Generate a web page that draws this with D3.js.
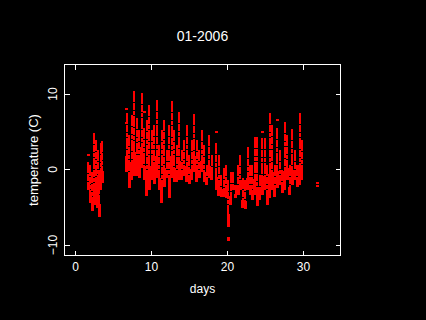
<!DOCTYPE html>
<html><head><meta charset="utf-8">
<script src="https://cdnjs.cloudflare.com/ajax/libs/d3/7.8.5/d3.min.js"></script>
<style>html,body{margin:0;background:#000}svg{display:block}text{font-family:"Liberation Sans",Arial,sans-serif;fill:#fff}</style>
</head><body><svg id="c" width="426" height="320"></svg>
<script>
const title = "01-2006", xLabel = "days", yLabel = "temperature (C)";
const xTicks = [0, 10, 20, 30], yTicks = [-10, 0, 10];
const days  = [1.67,1.94,2.2,2.47,2.73,2.94,3.13,3.33,3.52,
 6.74,7.07,7.39,7.72,8.05,8.38,8.71,9.04,9.37,9.70,10.03,10.36,10.68,11.01,11.34,11.67,12.0,12.33,12.66,12.99,13.32,13.64,13.97,14.30,14.63,14.96,15.29,15.62,15.95,16.28,16.61,16.93,17.26,17.59,17.92,
 18.51,18.84,19.17,19.5,19.83,20.09,20.42,20.75,21.08,21.41,21.67,22.0,22.33,22.66,22.99,23.25,23.58,23.91,24.24,24.57,24.89,25.22,25.55,25.88,26.21,26.54,26.87,27.2,27.53,27.86,28.18,28.51,28.84,29.17,29.5,29.76];
const highs = [1.0,0.57,-0.36,4.79,3.87,2.55,-0.09,3.47,3.73,
 7.43,4.53,7.16,10.46,6.77,5.18,10.2,5.45,6.5,8.48,5.18,5.84,9.27,3.2,5.18,6.5,2.55,5.84,9.14,5.18,3.2,7.56,2.55,3.87,5.84,1.89,3.87,7.3,3.87,2.55,5.18,3.2,0.57,4.53,1.89,
 3.47,1.89,-0.75,0.17,0.57,-1.41,-0.36,-0.36,-2.07,0.57,1.89,-1.15,-1.41,2.94,0.57,0.57,4.26,4.26,-0.75,4.13,4.13,0.57,7.43,5.84,0.57,5.45,2.55,-0.09,6.24,4.53,0.57,5.32,2.55,0.57,7.43,3.87];
const lows  = [-2.73,-4.45,-5.5,-4.71,-3.65,-5.1,-6.29,-2.73,-1.81,
 -0.36,-2.47,-1.41,-0.88,-0.88,-1.15,0.17,-1.41,-3.52,-2.73,-1.41,-1.94,-1.15,-2.73,-4.45,-2.34,-1.15,-3.79,-1.15,-1.68,-1.68,-1.41,-1.41,-0.88,-1.68,-1.94,-1.41,-0.36,-1.68,-1.15,-0.36,-1.68,-2.07,-1.15,-1.41,
 -2.73,-3.52,-3.65,-3.65,-3.79,-7.61,-4.71,-2.73,-3.79,-3.39,-2.73,-5.1,-5.24,-2.73,-3.39,-4.05,-3.39,-4.84,-4.05,-3.39,-2.73,-4.71,-3.79,-2.73,-3.65,-2.47,-2.07,-3.13,-2.73,-1.41,-3.39,-2.07,-1.41,-2.34,-2.07,-1.41];
const strayDays  = [1.67,6.74,6.74,9.04,18.51,20.09,20.09,24.57,26.54,31.8,31.8];
const strayTemps = [1.9,8.0,6.2,7.6,4.92,-9.06,-9.4,5.0,6.5,-1.8,-2.2];

const width = 426, height = 320;
const plotLeft = 64.5, plotRight = 340.5, plotTop = 64.5, plotBottom = 255.5;
const x = d3.scaleLinear().domain([-1.447, 34.87]).range([plotLeft, plotRight]);
const y = d3.scaleLinear().domain([-11.39, 13.91]).range([plotBottom, plotTop]);
const svg = d3.select("#c");
svg.append("rect").attr("width", width).attr("height", height).attr("fill", "#000");

const marks = svg.append("g").attr("stroke", "#ff0000").attr("shape-rendering", "crispEdges");
marks.selectAll("line.col").data(days).join("line").attr("class", "col")
  .attr("x1", d => x(d)).attr("x2", d => x(d))
  .attr("y1", (d, i) => y(highs[i]))
  .attr("y2", (d, i) => y(lows[i]))
  .attr("stroke-width", 2).attr("stroke-dasharray", "11 1 7 1 4 1");
marks.selectAll("line.base").data(days).join("line").attr("class", "base")
  .attr("x1", d => x(d)).attr("x2", d => x(d))
  .attr("y1", (d, i) => y(lows[i] + (highs[i] - lows[i]) * 0.28))
  .attr("y2", (d, i) => y(lows[i]))
  .attr("stroke-width", 3);
marks.selectAll("line.stray").data(strayDays).join("line").attr("class", "stray")
  .attr("x1", d => x(d) - 1.5).attr("x2", d => x(d) + 1.5)
  .attr("y1", (d, i) => y(strayTemps[i])).attr("y2", (d, i) => y(strayTemps[i]))
  .attr("stroke-width", 2);

svg.append("rect").attr("x", plotLeft).attr("y", plotTop).attr("width", plotRight - plotLeft).attr("height", plotBottom - plotTop)
  .attr("fill", "none").attr("stroke", "#fff").attr("shape-rendering", "crispEdges");

function styleAxis(g) {
  g.select(".domain").remove();
  g.selectAll("line").attr("stroke", "#fff").attr("shape-rendering", "crispEdges");
  g.selectAll("text").attr("fill", "#fff").style("font-size", "12px")
   .style("font-family", '"Liberation Sans",Arial,sans-serif');
}
const fmt = d => String(d).replace("-", "\u2212");
svg.append("g").attr("transform", `translate(0,${plotBottom})`)
  .call(d3.axisBottom(x).tickValues(xTicks).tickSize(-5).tickPadding(7).offset(0).tickFormat(fmt)).call(styleAxis);
svg.append("g").attr("transform", `translate(0,${plotTop})`)
  .call(d3.axisTop(x).tickValues(xTicks).tickSize(-5).offset(0).tickFormat("")).call(styleAxis);
const yl = svg.append("g").attr("transform", `translate(${plotLeft},0)`)
  .call(d3.axisLeft(y).tickValues(yTicks).tickSize(-5).offset(0).tickFormat(fmt)).call(styleAxis);
yl.selectAll("text").attr("x", 0).attr("dy", 0).attr("text-anchor", "middle")
  .attr("transform", "translate(-8,0) rotate(-90)");
svg.append("g").attr("transform", `translate(${plotRight},0)`)
  .call(d3.axisRight(y).tickValues(yTicks).tickSize(-5).offset(0).tickFormat("")).call(styleAxis);

svg.append("text").attr("x", 202.5).attr("y", 41).attr("text-anchor", "middle").style("font-size", "14px").text(title);
svg.append("text").attr("x", 202.5).attr("y", 293).attr("text-anchor", "middle").style("font-size", "12px").text(xLabel);
svg.append("text").attr("transform", "translate(38,160) rotate(-90)").attr("text-anchor", "middle").style("font-size", "13px").text(yLabel);
</script></body></html>
